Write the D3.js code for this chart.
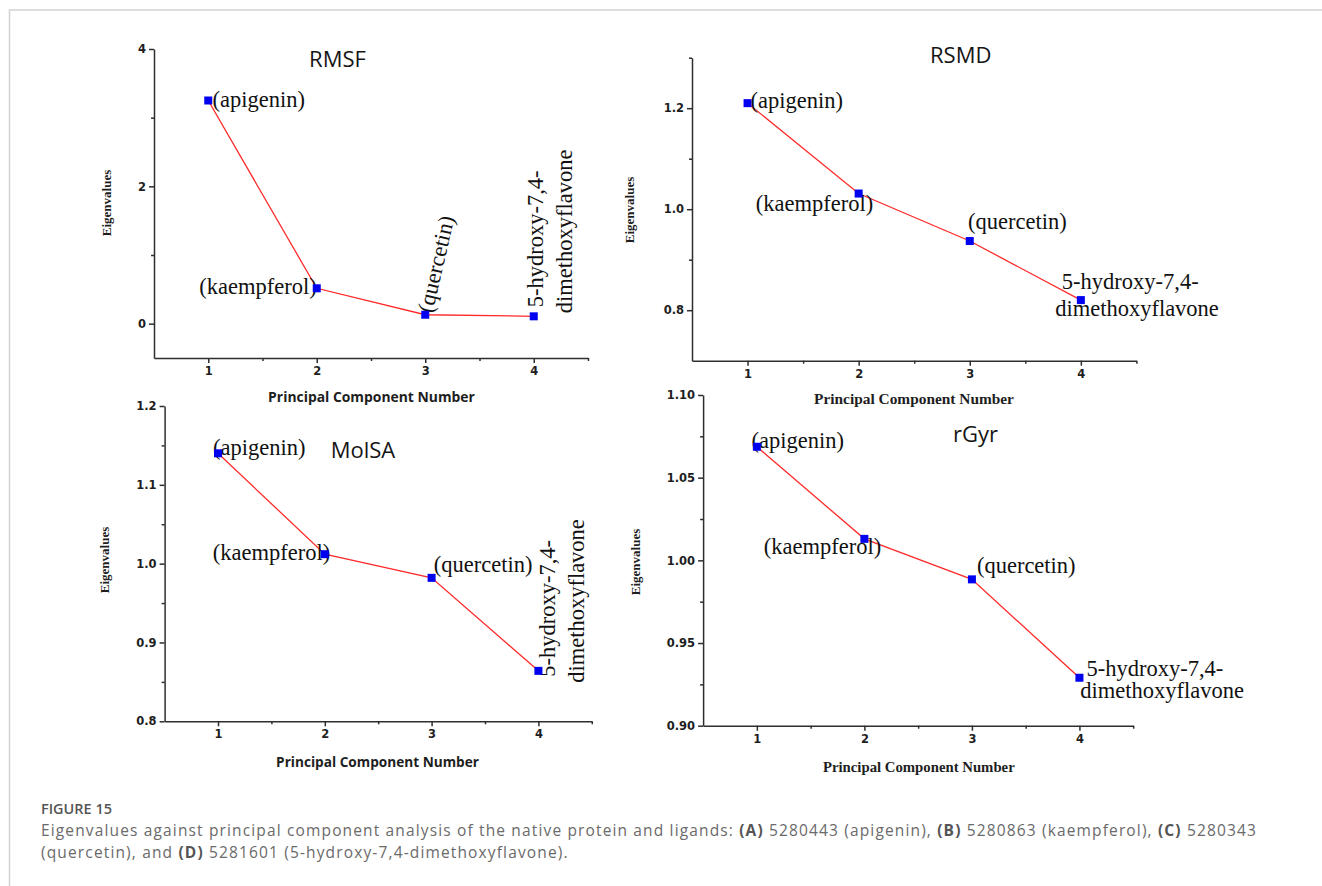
<!DOCTYPE html>
<html>
<head>
<meta charset="utf-8">
<script src="https://cdn.jsdelivr.net/npm/d3@7"></script>
<style>
  body { margin: 0; background: #fff; }
  svg { display: block; }
</style>
</head>
<body>
<div id="chart"></div>
<script>
const WIDTH = 1322;
const HEIGHT = 886;

// data
const components = [1, 2, 3, 4];
const ligandLines = [
  ["(apigenin)"],
  ["(kaempferol)"],
  ["(quercetin)"],
  ["5-hydroxy-7,4-", "dimethoxyflavone"],
];
const rmsfValues = [3.25, 0.515, 0.13, 0.107];
const rsmdValues = [1.21, 1.031, 0.937, 0.82];
const molsaValues = [1.14, 1.012, 0.982, 0.864];
const rgyrValues = [1.0687, 1.013, 0.9885, 0.929];

const xTicks = [1, 2, 3, 4];
const xMinorTicks = [1.5, 2.5, 3.5, 4.5];
const rmsfTicks = [0, 2, 4];
const rmsfMinor = [1, 3];
const rsmdTicks = [0.8, 1.0, 1.2];
const rsmdMinor = [0.9, 1.1, 1.3];
const molsaTicks = [0.8, 0.9, 1.0, 1.1, 1.2];
const molsaMinor = [0.85, 0.95, 1.05, 1.15];
const rgyrTicks = [0.9, 0.95, 1.0, 1.05, 1.1];
const rgyrMinor = [0.925, 0.975, 1.025, 1.075];

const SANS = "'Open Sans', 'Noto Sans', sans-serif";
const SERIF = "'Liberation Serif', 'DejaVu Serif', serif";
const TICKFONT = "'DejaVu Sans', sans-serif";

const panels = [
  {
    title: "RMSF", values: rmsfValues, yDomain: [-0.5, 4], yTicks: rmsfTicks, yMinor: rmsfMinor,
    fmt: d3.format("d"),
    left: 154, right: 588, top: 49, bottom: 358,
    titleX: 337.5, titleY: 67,
    xLabel: { x: 371.5, y: 402, w: 207, font: SANS, weight: 700 },
    yLabel: { x: 111, y: 203 },
    labels: [
      [{ dx: 4.3, dy: 6.3, anchor: "start", rot: 0 }],
      [{ dx: 0, dy: 5.5, anchor: "end", rot: 0 }],
      [{ dx: 7, dy: -1, anchor: "start", rot: -77 }],
      [{ dx: 9, dy: -9, anchor: "start", rot: -90 }, { dx: 38, dy: -3, anchor: "start", rot: -90 }],
    ],
  },
  {
    title: "RSMD", values: rsmdValues, yDomain: [0.7, 1.3], yTicks: rsmdTicks, yMinor: rsmdMinor,
    fmt: d3.format(".1f"),
    left: 692, right: 1136.4, top: 57.7, bottom: 360.7,
    titleX: 960.7, titleY: 63,
    xLabel: { x: 914, y: 404, w: 200, font: SERIF, weight: 700 },
    yLabel: { x: 634, y: 210 },
    labels: [
      [{ dx: 3, dy: 5, anchor: "start", rot: 0 }],
      [{ dx: 14.6, dy: 17.3, anchor: "end", rot: 0 }],
      [{ dx: -1.7, dy: -12, anchor: "start", rot: 0 }],
      [{ dx: -19, dy: -11, anchor: "start", rot: 0 }, { dx: -25.7, dy: 15.7, anchor: "start", rot: 0 }],
    ],
  },
  {
    title: "MolSA", values: molsaValues, yDomain: [0.8, 1.2], yTicks: molsaTicks, yMinor: molsaMinor,
    fmt: d3.format(".1f"),
    left: 164.6, right: 591.8, top: 406, bottom: 721.3,
    titleX: 363, titleY: 458,
    xLabel: { x: 377.5, y: 767, w: 203, font: SANS, weight: 700 },
    yLabel: { x: 109, y: 560 },
    labels: [
      [{ dx: -5, dy: 1.7, anchor: "start", rot: 0 }],
      [{ dx: 5.4, dy: 6, anchor: "end", rot: 0 }],
      [{ dx: 2.2, dy: -5.7, anchor: "start", rot: 0 }],
      [{ dx: 17, dy: 6, anchor: "start", rot: -90 }, { dx: 46, dy: 12, anchor: "start", rot: -90 }],
    ],
  },
  {
    title: "rGyr", values: rgyrValues, yDomain: [0.9, 1.1], yTicks: rgyrTicks, yMinor: rgyrMinor,
    fmt: d3.format(".2f"),
    left: 703.1, right: 1133.2, top: 395, bottom: 725.7,
    titleX: 975.6, titleY: 442,
    xLabel: { x: 918.8, y: 772, w: 192, font: SERIF, weight: 700 },
    yLabel: { x: 640, y: 562 },
    labels: [
      [{ dx: -5.4, dy: 1.3, anchor: "start", rot: 0 }],
      [{ dx: 16.8, dy: 14.7, anchor: "end", rot: 0 }],
      [{ dx: 5, dy: -6, anchor: "start", rot: 0 }],
      [{ dx: 7, dy: -1.7, anchor: "start", rot: 0 }, { dx: 0.8, dy: 20, anchor: "start", rot: 0 }],
    ],
  },
];

const svg = d3
  .select("#chart")
  .append("svg")
  .attr("width", WIDTH)
  .attr("height", HEIGHT);

// scale a text's font size so it spans a given width
function fitWidth(sel, target) {
  const node = sel.node();
  const fs = parseFloat(sel.attr("font-size"));
  const len = node.getComputedTextLength();
  if (len > 0) sel.attr("font-size", (fs * target) / len);
}

// page frame
svg.append("path")
  .attr("d", `M9.5,${HEIGHT} V10 H${WIDTH}`)
  .attr("fill", "none")
  .attr("stroke", "#d2d2d2")
  .attr("stroke-width", 1.5);

panels.forEach((p) => {
  const x = d3.scaleLinear().domain([0.5, 4.5]).range([p.left, p.right]);
  const y = d3.scaleLinear().domain(p.yDomain).range([p.bottom, p.top]);
  const g = svg.append("g");

  // axes
  g.append("g")
    .attr("transform", `translate(${p.left},0)`)
    .call(d3.axisLeft(y).tickValues(p.yTicks).tickSize(5).tickSizeOuter(0).tickPadding(3).tickFormat(p.fmt));
  const yMinorAxis = g.append("g")
    .attr("transform", `translate(${p.left},0)`)
    .call(d3.axisLeft(y).tickValues(p.yMinor).tickSize(3).tickFormat(""));
  yMinorAxis.select(".domain").remove();

  g.append("g")
    .attr("transform", `translate(0,${p.bottom})`)
    .call(d3.axisBottom(x).tickValues(xTicks).tickSize(5).tickSizeOuter(0).tickPadding(4).tickFormat(d3.format("d")));
  const xMinorAxis = g.append("g")
    .attr("transform", `translate(0,${p.bottom})`)
    .call(d3.axisBottom(x).tickValues(xMinorTicks).tickSize(3).tickFormat(""));
  xMinorAxis.select(".domain").remove();

  g.selectAll(".domain, .tick line")
    .attr("stroke", "#2e2e2e")
    .attr("stroke-width", 1.5);
  g.selectAll(".tick text")
    .attr("fill", "#1e1e1e")
    .attr("font-family", TICKFONT)
    .attr("font-weight", 700)
    .attr("font-size", 11.5);

  // title
  g.append("text")
    .attr("x", p.titleX)
    .attr("y", p.titleY)
    .attr("text-anchor", "middle")
    .attr("font-family", SANS)
    .attr("font-size", 22)
    .attr("fill", "#151515")
    .text(p.title);

  // x label
  const xl = g.append("text")
    .attr("x", p.xLabel.x)
    .attr("y", p.xLabel.y)
    .attr("text-anchor", "middle")
    .attr("font-family", p.xLabel.font)
    .attr("font-weight", p.xLabel.weight)
    .attr("font-size", 14)
    .attr("fill", "#1e1e1e")
    .text("Principal Component Number");
  fitWidth(xl, p.xLabel.w);

  // y label
  g.append("text")
    .attr("transform", `translate(${p.yLabel.x},${p.yLabel.y}) rotate(-90)`)
    .attr("text-anchor", "middle")
    .attr("font-family", SERIF)
    .attr("font-weight", 700)
    .attr("font-size", 13)
    .attr("fill", "#1e1e1e")
    .text("Eigenvalues");

  const pts = components.map((c, i) => ({ c, v: p.values[i], i }));

  // connecting line
  g.append("path")
    .datum(pts)
    .attr("fill", "none")
    .attr("stroke", "#ff2a2a")
    .attr("stroke-width", 1.3)
    .attr("d", d3.line().x((d) => x(d.c)).y((d) => y(d.v)));

  // ligand labels
  pts.forEach((d) => {
    ligandLines[d.i].forEach((line, k) => {
      const s = p.labels[d.i][k];
      g.append("text")
        .attr("transform", `translate(${x(d.c) + s.dx},${y(d.v) + s.dy}) rotate(${s.rot})`)
        .attr("text-anchor", s.anchor)
        .attr("font-family", SERIF)
        .attr("font-size", 22.5)
        .attr("fill", "#111")
        .text(line);
    });
  });

  // markers
  g.selectAll("rect.marker")
    .data(pts)
    .enter()
    .append("rect")
    .attr("class", "marker")
    .attr("x", (d) => x(d.c) - 4)
    .attr("y", (d) => y(d.v) - 4)
    .attr("width", 8)
    .attr("height", 8)
    .attr("fill", "#0000f0");
});

// caption
const cap = svg.append("g").attr("font-family", SANS);

const figLabel = cap.append("text")
  .attr("x", 41)
  .attr("y", 814)
  .attr("font-size", 14)
  .attr("font-weight", 600)
  .attr("fill", "#555")
  .text("FIGURE 15");
fitWidth(figLabel, 71);

const capLines = [
  [["Eigenvalues against principal component analysis of the native protein and ligands: ", 0], ["(A)", 1],
   [" 5280443 (apigenin), ", 0], ["(B)", 1], [" 5280863 (kaempferol), ", 0], ["(C)", 1], [" 5280343", 0]],
  [["(quercetin), and ", 0], ["(D)", 1], [" 5281601 (5-hydroxy-7,4-dimethoxyflavone).", 0]],
];
const capY = [836, 858];
const CAP_FS = 15.5;
const capTexts = capLines.map((parts, li) => {
  const t = cap.append("text")
    .attr("x", 41)
    .attr("y", capY[li])
    .attr("font-size", CAP_FS)
    .attr("fill", "#6a6a6a");
  parts.forEach(([s, b]) => {
    t.append("tspan")
      .attr("font-weight", b ? 700 : 400)
      .attr("fill", b ? "#555" : "#6a6a6a")
      .text(s);
  });
  return t;
});
// adjust tracking so the first line reaches its width in the figure
const firstLine = capTexts[0];
const nChars = firstLine.text().length;
const spacing = (1216 - firstLine.node().getComputedTextLength()) / nChars;
capTexts.forEach((t) => t.attr("letter-spacing", spacing));
</script>
</body>
</html>
